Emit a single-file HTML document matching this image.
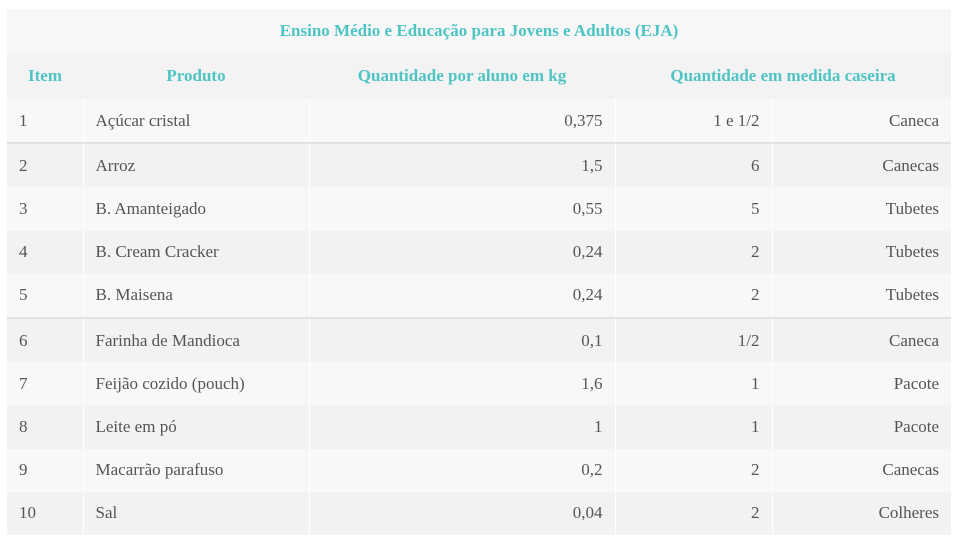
<!DOCTYPE html>
<html><head><meta charset="utf-8"><style>
html,body{margin:0;padding:0;background:#fff;width:960px;height:547px;overflow:hidden}
table{position:absolute;left:7px;top:9px;width:944px;border-collapse:collapse;table-layout:fixed;font-family:"Liberation Serif",serif;font-size:17px;color:#555}
td,th{padding:0 12px;white-space:nowrap}
th{color:#4ec4c4;font-weight:bold;height:47px;background:#f3f3f3}
.title th{height:43px;background:#f7f7f7}
td{height:43.2px;border-left:1px solid #fff}
td:first-child{border-left:none}
tr.odd td{background:#f8f8f8}
tr.even td{background:#f2f2f2}
.r{text-align:right}
tr.sep td{border-top:2px solid #e2e2e2}
</style></head><body>
<table>
<colgroup><col style="width:76px"><col style="width:226px"><col style="width:306px"><col style="width:157px"><col style="width:179px"></colgroup>
<tr class="title"><th colspan="5">Ensino Médio e Educação para Jovens e Adultos (EJA)</th></tr>
<tr>
<th>Item</th>
<th>Produto</th>
<th>Quantidade por aluno em kg</th>
<th colspan="2">Quantidade em medida caseira</th></tr>
<tr class="odd"><td>1</td><td>Açúcar cristal</td><td class="r">0,375</td><td class="r">1 e 1/2</td><td class="r">Caneca</td></tr>
<tr class="even sep"><td>2</td><td>Arroz</td><td class="r">1,5</td><td class="r">6</td><td class="r">Canecas</td></tr>
<tr class="odd"><td>3</td><td>B. Amanteigado</td><td class="r">0,55</td><td class="r">5</td><td class="r">Tubetes</td></tr>
<tr class="even"><td>4</td><td>B. Cream Cracker</td><td class="r">0,24</td><td class="r">2</td><td class="r">Tubetes</td></tr>
<tr class="odd"><td>5</td><td>B. Maisena</td><td class="r">0,24</td><td class="r">2</td><td class="r">Tubetes</td></tr>
<tr class="even sep"><td>6</td><td>Farinha de Mandioca</td><td class="r">0,1</td><td class="r">1/2</td><td class="r">Caneca</td></tr>
<tr class="odd"><td>7</td><td>Feijão cozido (pouch)</td><td class="r">1,6</td><td class="r">1</td><td class="r">Pacote</td></tr>
<tr class="even"><td>8</td><td>Leite em pó</td><td class="r">1</td><td class="r">1</td><td class="r">Pacote</td></tr>
<tr class="odd"><td>9</td><td>Macarrão parafuso</td><td class="r">0,2</td><td class="r">2</td><td class="r">Canecas</td></tr>
<tr class="even"><td>10</td><td>Sal</td><td class="r">0,04</td><td class="r">2</td><td class="r">Colheres</td></tr>
</table>
</body></html>
